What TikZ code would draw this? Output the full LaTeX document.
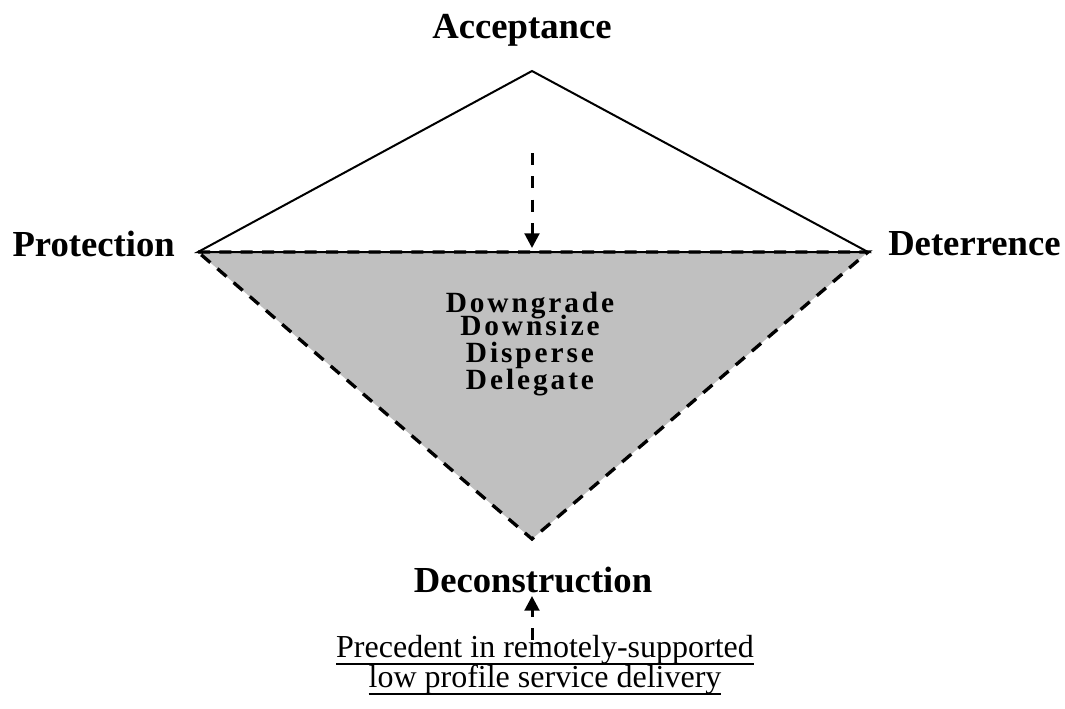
\documentclass[tikz,border=0pt]{standalone}
\usepackage{fontspec}
\setmainfont{Liberation Serif}
\newfontfamily\spacedfont[LetterSpace=10]{Liberation Serif}
\usetikzlibrary{arrows.meta}
\definecolor{lowgrey}{RGB}{192,192,192}
\newcommand{\undl}[1]{\setbox0\hbox{#1}\rlap{\vrule height -4.5pt depth 6pt width \wd0}\box0}
\newcommand{\tightlines}{\setlength{\lineskiplimit}{-20pt}}

\tikzset{
  corner label/.style={font=\fontsize{27.5}{30}\selectfont\bfseries, inner sep=0pt},
  measures/.style={font=\fontsize{22}{20.25}\selectfont\tightlines\spacedfont\bfseries, align=center, inner sep=0pt},
  precedent/.style={font=\fontsize{24}{22.5}\selectfont\tightlines, align=center, inner sep=0pt},
  push/.style={line width=2.25pt, dash pattern=on 9pt off 8.5pt, -{Triangle[length=11pt,width=11pt]}},
}

\begin{document}
\begin{tikzpicture}[x=0.75pt,y=-0.75pt]
    \useasboundingbox (0,0) rectangle (1065,708);

    \coordinate (A) at (532,71);
    \coordinate (P) at (198,252);
    \coordinate (D) at (868,252);
    \coordinate (C) at (532,539);

    \fill[lowgrey] (P) -- (D) -- (C) -- cycle;
    \draw[line width=1.5pt] (P) -- (A) -- (D) -- cycle;
    \draw[line width=2.5pt, dash pattern=on 9pt off 7pt] (P) -- (D) -- (C) -- cycle;

    \node[corner label, anchor=base] (acc) at (522,38) {Acceptance};
    \node[corner label, anchor=base east] (prot) at (175,256) {Protection};
    \node[corner label, anchor=base west] (det) at (888,255) {Deterrence};
    \node[corner label, anchor=base] (dec) at (533,592) {Deconstruction};

    \node[measures, anchor=north] (meas) at (530,292) {Downgrade\\[-3pt]Downsize\\Disperse\\Delegate};
    \node[precedent, anchor=north] (prec) at (545,635)
        {\undl{Precedent in remotely-supported}\\\undl{low profile service delivery}};

    \coordinate (top) at (532,153);
    \coordinate (mid) at (532,248);
    \coordinate (low) at (532,640);
    \coordinate (up) at (532,596);
    \draw[push] (top) -- (mid);
    \draw[push] (low) -- (up);
\end{tikzpicture}
\end{document}
